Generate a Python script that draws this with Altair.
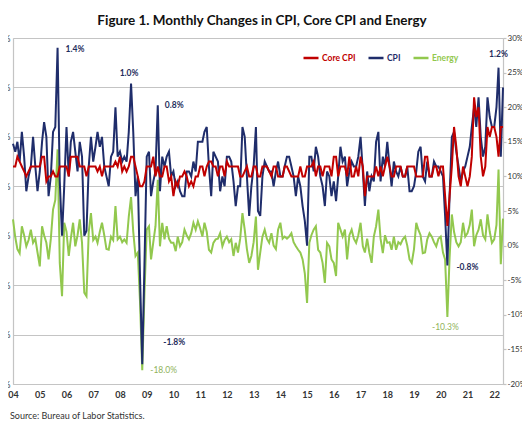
import altair as alt
import pandas as pd

TITLE = "Figure 1. Monthly Changes in CPI, Core CPI and Energy"
SOURCE = "Source: Bureau of Labor Statistics."
SERIES = ["Core CPI", "CPI", "Energy"]
COLORS = ["#c00000", "#1f2d6b", "#92c84e"]
FONT = "Lato"

# monthly observations, Jan 2004 .. May 2022
months = pd.date_range("2004-01-01", "2022-05-01", freq="MS").strftime("%Y-%m-%d").tolist()

cpi = [
    0.43, 0.35, 0.45, 0.25, 0.55, 0.3, -0.05, 0.1, 0.2, 0.5, 0.2, -0.05,      # 2004
    0.15, 0.45, 0.65, 0.5, -0.1, 0.1, 0.55, 0.6, 1.4, 0.05, -0.5, 0.0,        # 2005
    0.6, 0.1, 0.45, 0.55, 0.35, 0.15, 0.45, 0.3, -0.5, -0.45, 0.2, 0.5,       # 2006
    0.25, 0.4, 0.55, 0.4, 0.5, 0.2, 0.1, 0.0, 0.3, 0.35, 0.8, 0.3,            # 2007
    0.35, 0.25, 0.3, 0.25, 0.55, 1.04, 0.55, -0.1, 0.1, -0.9, -1.8, -0.8,     # 2008
    0.3, 0.35, -0.1, 0.05, 0.15, 0.82, -0.05, 0.3, 0.2, 0.3, 0.35, 0.1,       # 2009
    0.15, 0.0, 0.05, -0.05, -0.1, -0.1, 0.15, 0.15, 0.1, 0.25, 0.15, 0.45,    # 2010
    0.45, 0.45, 0.55, 0.6, 0.2, -0.1, 0.35, 0.3, 0.25, -0.05, 0.1, 0.0,       # 2011
    0.3, 0.3, 0.25, 0.05, -0.2, 0.0, 0.0, 0.6, 0.5, 0.1, -0.3, 0.0,           # 2012
    0.2, 0.6, -0.25, -0.3, 0.1, 0.25, 0.2, 0.15, 0.15, 0.0, 0.15, 0.25,       # 2013
    0.1, 0.1, 0.2, 0.3, 0.3, 0.2, 0.1, -0.1, 0.1, 0.0, -0.2, -0.35,           # 2014
    -0.6, 0.3, 0.3, 0.15, 0.4, 0.3, 0.1, 0.0, -0.2, 0.15, 0.1, -0.1,          # 2015
    0.05, -0.15, 0.1, 0.4, 0.25, 0.3, 0.0, 0.15, 0.25, 0.2, 0.2, 0.3,         # 2016
    0.5, 0.15, -0.2, 0.15, -0.05, 0.1, 0.05, 0.45, 0.55, 0.05, 0.3, 0.2,      # 2017
    0.45, 0.2, 0.0, 0.25, 0.15, 0.1, 0.2, 0.1, 0.1, 0.2, -0.05, -0.05,        # 2018
    0.0, 0.15, 0.35, 0.4, 0.1, 0.05, 0.25, 0.1, 0.1, 0.25, 0.2, 0.2,          # 2019
    0.15, 0.1, -0.3, -0.8, -0.1, 0.5, 0.55, 0.35, 0.2, 0.05, 0.15, 0.2,       # 2020
    0.3, 0.4, 0.6, 0.8, 0.6, 0.9, 0.5, 0.3, 0.4, 0.9, 0.7, 0.6,               # 2021
    0.6, 0.8, 1.2, 0.3, 1.0,                                                  # 2022
]

core = [
    0.2, 0.2, 0.3, 0.25, 0.2, 0.15, 0.1, 0.15, 0.2, 0.2, 0.2, 0.2,            # 2004
    0.2, 0.3, 0.3, 0.05, 0.1, 0.1, 0.15, 0.1, 0.1, 0.2, 0.2, 0.2,             # 2005
    0.2, 0.1, 0.3, 0.3, 0.3, 0.3, 0.2, 0.2, 0.2, 0.1, 0.2, 0.2,               # 2006
    0.2, 0.2, 0.15, 0.2, 0.1, 0.2, 0.2, 0.2, 0.2, 0.2, 0.25, 0.2,             # 2007
    0.3, 0.15, 0.2, 0.15, 0.2, 0.3, 0.3, 0.2, 0.1, 0.0, 0.0, 0.05,            # 2008
    0.2, 0.2, 0.2, 0.3, 0.1, 0.2, 0.1, 0.1, 0.2, 0.2, 0.05, 0.1,              # 2009
    -0.1, 0.05, 0.0, 0.1, 0.1, 0.15, 0.1, 0.0, 0.05, 0.0, 0.1, 0.1,           # 2010
    0.2, 0.2, 0.1, 0.2, 0.25, 0.25, 0.2, 0.2, 0.1, 0.2, 0.2, 0.1,             # 2011
    0.25, 0.2, 0.2, 0.2, 0.2, 0.2, 0.1, 0.1, 0.15, 0.2, 0.1, 0.1,             # 2012
    0.2, 0.2, 0.1, 0.1, 0.2, 0.2, 0.2, 0.15, 0.1, 0.2, 0.2, 0.1,              # 2013
    0.1, 0.1, 0.2, 0.2, 0.15, 0.1, 0.1, 0.1, 0.1, 0.2, 0.1, 0.1,              # 2014
    0.2, 0.2, 0.2, 0.25, 0.1, 0.2, 0.2, 0.1, 0.2, 0.2, 0.2, 0.1,              # 2015
    0.3, 0.3, 0.1, 0.2, 0.2, 0.2, 0.1, 0.3, 0.1, 0.1, 0.2, 0.1,               # 2016
    0.3, 0.2, -0.1, 0.1, 0.1, 0.1, 0.1, 0.2, 0.1, 0.2, 0.1, 0.2,              # 2017
    0.3, 0.2, 0.1, 0.1, 0.2, 0.2, 0.2, 0.1, 0.1, 0.2, 0.2, 0.2,               # 2018
    0.2, 0.1, 0.1, 0.1, 0.1, 0.3, 0.3, 0.1, 0.1, 0.2, 0.2, 0.1,               # 2019
    0.2, 0.2, -0.1, -0.4, -0.1, 0.2, 0.6, 0.4, 0.1, 0.0, 0.2, 0.1,            # 2020
    0.0, 0.1, 0.3, 0.9, 0.7, 0.8, 0.3, 0.1, 0.2, 0.6, 0.5, 0.6,               # 2021
    0.6, 0.5, 0.3, 0.6, 0.6,                                                  # 2022
]

energy = [
    3.8, 1.2, -0.5, -1.1, 2.8, 1.5, -0.1, 0.8, 2.3, 0.4, 1.0, -1.0,           # 2004
    -3.0, 2.8, 1.5, 0.4, -2.0, 1.0, 5.2, 6.6, 13.9, -2.5, -7.3, 3.3,          # 2005
    2.0, -1.5, 1.0, 3.3, -0.1, 1.5, 3.8, 0.4, -6.8, -7.3, 2.0, 4.7,           # 2006
    0.8, 1.3, 0.4, 2.0, 3.3, 1.5, -0.5, -0.6, 1.3, 0.8, 5.7, 0.9,             # 2007
    1.3, 0.5, 0.9, 0.4, 4.2, 7.0, 2.0, -1.5, -1.0, -8.0, -18.0, -7.0,         # 2008
    2.3, 2.8, -2.0, 0.5, 2.8, 9.5, -0.1, 3.3, 0.9, 2.8, 1.0, 0.4,             # 2009
    0.4, -0.8, 1.3, -0.1, 0.5, 2.3, 1.5, 0.9, 1.8, 3.3, 2.3, 3.5,             # 2010
    2.5, 1.3, 3.3, 2.0, -0.6, -1.0, 0.4, 0.9, 1.0, 1.8, -0.1, 0.8,            # 2011
    1.3, 0.5, 0.9, -1.5, 0.4, -1.0, 1.0, 4.7, 2.3, -0.5, -2.5, -1.5,          # 2012
    0.5, 4.2, -3.5, -1.0, 1.3, 2.3, 1.0, 0.4, 1.8, 0.0, -0.5, 2.3,            # 2013
    3.3, 1.0, 1.3, 1.0, 1.3, 1.8, 0.5, -0.1, -0.6, -1.0, -2.0, -4.0,          # 2014
    -8.3, 0.4, 1.5, 2.3, 2.8, -0.6, -1.0, -2.5, -5.4, 0.4, -0.1, -2.0,        # 2015
    -2.5, -4.4, 3.3, 2.3, 1.3, 2.3, -2.0, 1.5, 2.3, 1.0, 0.4, 1.5,            # 2016
    3.3, -0.1, -1.0, 1.0, -1.0, -2.5, 1.3, 2.8, 5.2, 1.0, -1.1, 1.5,          # 2017
    0.4, 0.5, -0.6, 1.3, -0.6, 0.5, 0.2, 0.9, 1.3, 0.0, -2.0, -2.5,           # 2018
    -0.5, 3.3, 2.3, 1.5, -1.1, -1.0, 0.9, 1.8, 1.3, 0.5, -0.1, 1.0,           # 2019
    1.3, -1.0, -2.0, -10.3, -1.8, 4.5, 2.0, 0.5, -0.1, 0.5, 3.3, 1.3,         # 2020
    1.8, 3.0, 5.2, -0.1, 1.5, 2.3, 3.8, 1.5, 0.9, 4.5, 2.0, 0.4,              # 2021
    0.9, 3.0, 11.0, -2.7, 3.9,                                                # 2022
]

year_ticks = list(range(2004, 2023))
cpi_ticks = [-2.0, -1.5, -1.0, -0.5, 0.0, 0.5, 1.0, 1.5]
energy_ticks = [-20, -15, -10, -5, 0, 5, 10, 15, 20, 25, 30]

# annotated extremes
cpi_note_dates = ["2005-09-01", "2008-06-01", "2009-06-01", "2008-11-01", "2020-04-01", "2022-03-01"]
cpi_note_values = [1.4, 1.04, 0.82, -1.8, -0.8, 1.2]
cpi_note_labels = ["1.4%", "1.0%", "0.8%", "-1.8%", "-0.8%", "1.2%"]
energy_note_dates = ["2008-11-01", "2020-04-01"]
energy_note_values = [-18.0, -10.3]
energy_note_labels = ["-18.0%", "-10.3%"]

cpi_df = pd.DataFrame({"date": months, "value": cpi, "series": "CPI"})
core_df = pd.DataFrame({"date": months, "value": core, "series": "Core CPI"})
energy_df = pd.DataFrame({"date": months, "value": energy, "series": "Energy"})
cpi_notes = pd.DataFrame({"date": cpi_note_dates, "value": cpi_note_values, "label": cpi_note_labels})
energy_notes = pd.DataFrame({"date": energy_note_dates, "value": energy_note_values, "label": energy_note_labels})

GRID = "#c4c4c4"
AXIS_TXT = "#333333"

x_enc = alt.X(
    "date:T",
    title=None,
    scale=alt.Scale(
        type="utc",
        domain=[alt.DateTime(year=2004, month=1, date=1, utc=True),
                alt.DateTime(year=2022, month=5, date=1, utc=True)],
        nice=False,
    ),
    axis=alt.Axis(
        values=[alt.DateTime(year=y, month=1, date=1, utc=True) for y in year_ticks],
        labelExpr="utcFormat(datum.value, '%y')",
        ticks=False, grid=False, domainColor=GRID, domainWidth=1.2,
        labelFont=FONT, labelFontSize=9, labelFontWeight="bold", labelColor=AXIS_TXT,
        labelPadding=6, labelFlush=False, labelOverlap=False,
    ),
)

cpi_y = alt.Y(
    "value:Q", title=None,
    scale=alt.Scale(domain=[-2.0, 1.5], nice=False, zero=False),
    axis=alt.Axis(
        orient="left", values=cpi_ticks, labelExpr="format(datum.value, '.1f') + '%'",
        grid=True, gridColor=GRID, gridWidth=1.2, ticks=False,
        domainColor=GRID, domainWidth=1.2,
        labelFont=FONT, labelFontSize=9, labelColor=AXIS_TXT, labelPadding=3,
    ),
)

energy_y = alt.Y(
    "value:Q", title=None,
    scale=alt.Scale(domain=[-20, 30], nice=False, zero=False),
    axis=alt.Axis(
        orient="right", values=energy_ticks, labelExpr="datum.value + '%'",
        grid=False, ticks=True, tickSize=3, tickColor=GRID, tickWidth=1.2,
        domainColor=GRID, domainWidth=1.2,
        labelFont=FONT, labelFontSize=8, labelColor=AXIS_TXT, labelPadding=1,
    ),
)

legend = alt.Legend(
    title=None, orient="none", legendX=289, legendY=11, direction="horizontal",
    symbolType="stroke", symbolSize=225, symbolStrokeWidth=2.5,
    labelFont=FONT, labelFontSize=8.5, labelFontWeight="bold", labelOffset=2,
    labelColor={"expr": "datum.label === 'Core CPI' ? '%s' : datum.label === 'CPI' ? '%s' : '%s'"
                % (COLORS[0], COLORS[1], COLORS[2])},
    columnPadding=7,
)
color_enc = alt.Color("series:N", scale=alt.Scale(domain=SERIES, range=COLORS), legend=legend)

energy_line = alt.Chart(energy_df).mark_line(strokeWidth=2).encode(x=x_enc, y=energy_y, color=color_enc)
cpi_line = alt.Chart(cpi_df).mark_line(strokeWidth=2).encode(x=x_enc, y=cpi_y, color=color_enc)
core_line = alt.Chart(core_df).mark_line(strokeWidth=2).encode(x=x_enc, y=cpi_y, color=color_enc)

# label placement per annotation: (align, dx, dy)
cpi_note_place = [("left", 8, 1), ("center", -2, -10), ("left", 7, 0),
                  ("left", 21, -22), ("left", 9, 2), ("center", 0, -14)]
energy_note_place = [("left", 8, 0), ("center", -2, 10)]

cpi_text_layers = []
for i, (al, dx, dy) in enumerate(cpi_note_place):
    cpi_text_layers.append(
        alt.Chart(cpi_notes.iloc[[i]]).mark_text(
            align=al, baseline="middle", dx=dx, dy=dy, font=FONT, fontSize=8.5,
            fontWeight="bold", color="#1f2d5c",
        ).encode(x=x_enc, y=cpi_y, text="label:N")
    )
energy_text_layers = []
for i, (al, dx, dy) in enumerate(energy_note_place):
    energy_text_layers.append(
        alt.Chart(energy_notes.iloc[[i]]).mark_text(
            align=al, baseline="middle", dx=dx, dy=dy, font=FONT, fontSize=8.5,
            color="#8fb35a",
        ).encode(x=x_enc, y=energy_y, text="label:N")
    )

source = alt.Chart(pd.DataFrame({"t": [SOURCE]})).mark_text(
    align="left", baseline="middle", font=FONT, fontSize=9, color=AXIS_TXT,
).encode(text="t:N", x=alt.value(-3), y=alt.value(378))

energy_group = alt.layer(energy_line, *energy_text_layers)
cpi_group = alt.layer(cpi_line, core_line, *cpi_text_layers)

chart = alt.layer(energy_group, cpi_group, source).resolve_scale(y="independent").properties(
    width=490, height=346,
    padding={"left": 5, "top": 30, "right": 19, "bottom": 48},
    autosize=alt.AutoSizeParams(type="none"),
    title=alt.TitleParams(TITLE, font=FONT, fontSize=13.5, fontWeight="bold", color="#111111",
                          anchor="middle", frame="group", offset=7, dx=4),
).configure_view(stroke=None).configure(background="white")

chart.save("out.html", embed_options={"renderer": "svg", "actions": False})
